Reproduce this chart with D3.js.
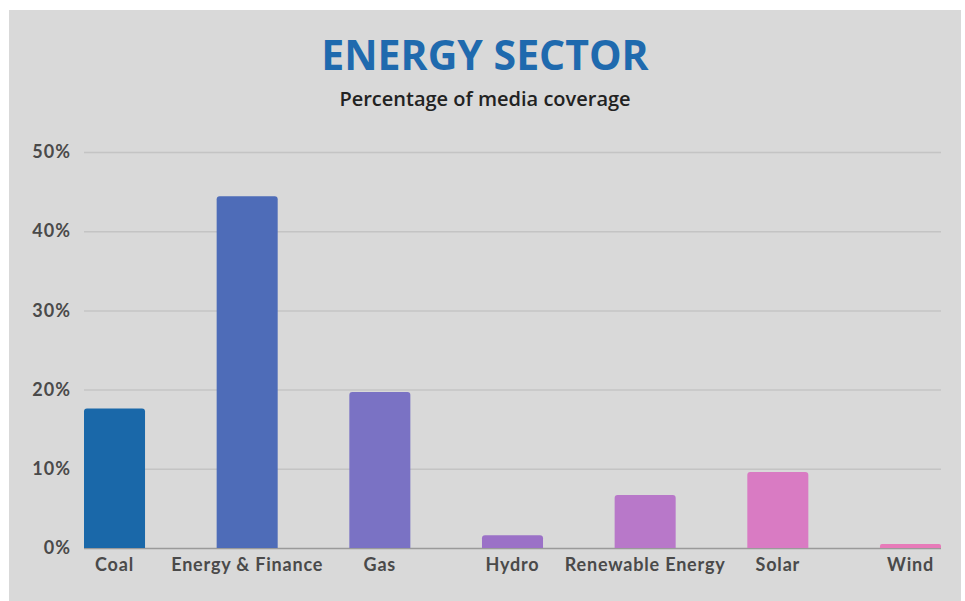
<!DOCTYPE html>
<html>
<head>
<meta charset="utf-8">
<script src="https://cdn.jsdelivr.net/npm/d3@7"></script>
<style>
  body { margin: 0; background: #fff; }
  .title { font-family: "Open Sans", sans-serif; font-weight: 700; fill: #1f6aae; }
  .subtitle { font-family: "Open Sans", sans-serif; font-weight: 600; fill: #222; }
  .tick text { font-family: Lato, sans-serif; font-weight: 700; fill: #4a4a4a; }
</style>
</head>
<body>
<div id="chart"></div>
<script>
var categories = ["Coal", "Energy & Finance", "Gas", "Hydro", "Renewable Energy", "Solar", "Wind"];
var coverage = [17.6, 44.4, 19.7, 1.6, 6.7, 9.6, 0.5];
var barColors = ["#1a68a9", "#4e6cb8", "#7a72c4", "#9b71c7", "#b878c9", "#d97bc3", "#e77bb9"];
var yTicks = [0, 10, 20, 30, 40, 50];

var W = 965, H = 601;
var margin = { top: 152, right: 24, bottom: 53, left: 84 };
var width = 941 - margin.left;
var height = 548 - margin.top;

var svg = d3.select("#chart").append("svg")
	.attr("width", W)
	.attr("height", H);

//grey panel
svg.append("rect")
	.attr("x", 9).attr("y", 10)
	.attr("width", 952).attr("height", H - 10)
	.attr("fill", "#d9d9d9");

//titles
svg.append("text")
	.attr("class", "title")
	.attr("x", 485).attr("y", 70)
	.attr("text-anchor", "middle")
	.style("font-size", "41px")
	.text("ENERGY SECTOR");
svg.append("text")
	.attr("class", "subtitle")
	.attr("x", 485).attr("y", 106)
	.attr("text-anchor", "middle")
	.style("font-size", "20px")
	.text("Percentage of media coverage");

var g = svg.append("g")
	.attr("transform", "translate(" + margin.left + "," + margin.top + ")");

var x = d3.scaleBand()
	.domain(categories)
	.range([0, width])
	.paddingInner(0.54)
	.paddingOuter(0);

var y = d3.scaleLinear()
	.domain([0, 50])
	.range([height, 0]);

//gridlines + y labels
var yAxis = g.append("g")
	.call(d3.axisLeft(y)
		.tickValues(yTicks)
		.tickSize(-width)
		.tickPadding(13)
		.tickFormat(function(d) { return d + "%"; }));
yAxis.select(".domain").remove();
yAxis.selectAll(".tick line")
	.attr("stroke", function(d) { return d === 0 ? "#9a9a9a" : "#c4c4c4"; })
	.attr("stroke-width", 1.5);
yAxis.selectAll(".tick text")
	.style("font-size", "18px")
	.style("letter-spacing", "1px");

//bars with rounded tops
function barPath(d, i) {
	var x0 = x(categories[i]), w = x.bandwidth();
	var y0 = y(d), y1 = y(0);
	var r = Math.min(3, (y1 - y0) / 2);
	return "M" + x0 + "," + y1 +
		"V" + (y0 + r) +
		"Q" + x0 + "," + y0 + " " + (x0 + r) + "," + y0 +
		"H" + (x0 + w - r) +
		"Q" + (x0 + w) + "," + y0 + " " + (x0 + w) + "," + (y0 + r) +
		"V" + y1 + "Z";
}
g.selectAll(".bar")
	.data(coverage)
	.enter().append("path")
	.attr("class", "bar")
	.attr("d", barPath)
	.attr("fill", function(d, i) { return barColors[i]; });

//x labels
var xAxis = g.append("g")
	.attr("transform", "translate(0," + height + ")")
	.call(d3.axisBottom(x).tickSize(0).tickPadding(10));
xAxis.select(".domain").remove();
xAxis.selectAll(".tick text")
	.style("font-size", "18px")
	.style("letter-spacing", "0.8px")
	.attr("dy", "0.71em");
</script>
</body>
</html>
